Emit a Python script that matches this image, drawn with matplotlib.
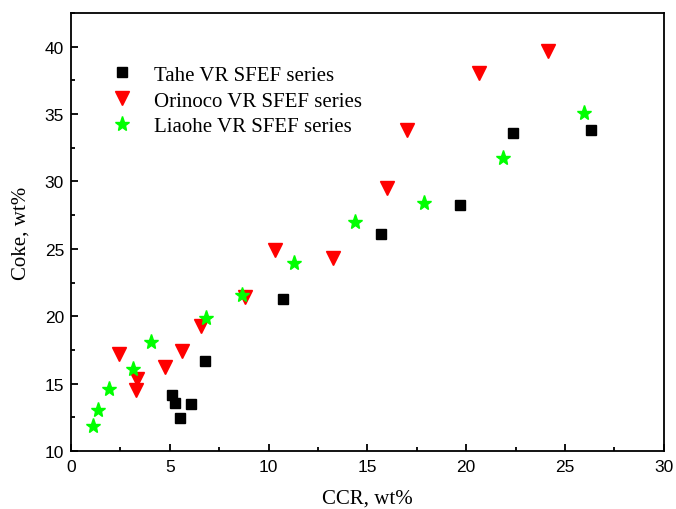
import matplotlib
matplotlib.use("Agg")
import matplotlib.pyplot as plt
from matplotlib.ticker import MultipleLocator

tahe_x = [5.12, 5.26, 5.53, 6.08, 6.8, 10.72, 15.71, 19.68, 22.36, 26.29]
tahe_y = [14.15, 13.56, 12.45, 13.46, 16.65, 21.28, 26.08, 28.27, 33.6, 33.81]

orin_x = [2.43, 3.32, 3.29, 4.77, 5.6, 6.59, 8.8, 10.32, 13.27, 16.0, 17.01, 20.64, 24.16]
orin_y = [17.2, 15.35, 14.5, 16.25, 17.45, 19.25, 21.4, 24.89, 24.29, 29.49, 33.81, 38.02, 39.7]

liao_x = [1.13, 1.38, 1.94, 3.15, 4.05, 6.81, 8.65, 11.28, 14.35, 17.87, 21.85, 25.95]
liao_y = [11.88, 13.07, 14.6, 16.08, 18.06, 19.87, 21.57, 23.97, 26.97, 28.38, 31.71, 35.05]

labels = ["Tahe VR SFEF series", "Orinoco VR SFEF series", "Liaohe VR SFEF series"]
x_label = "CCR, wt%"
y_label = "Coke, wt%"

serif = ["Liberation Serif", "DejaVu Serif"]
sans = ["Liberation Sans", "DejaVu Sans"]

fig = plt.figure(figsize=(6.76, 5.10), dpi=100)
ax = fig.add_axes([0.105, 0.1137, 0.877, 0.8588])

ax.plot(tahe_x, tahe_y, ls="none", marker="s", ms=7, color="black", label=labels[0])
ax.plot(orin_x, orin_y, ls="none", marker="v", ms=10, color="#ff0000", mec="#ff0000", label=labels[1])
ax.plot(liao_x, liao_y, ls="none", marker="*", ms=11, color="#00ff00", mec="#00ff00", label=labels[2])

ax.set_xlim(0, 30)
ax.set_ylim(10, 42.5)
ax.xaxis.set_major_locator(MultipleLocator(5))
ax.xaxis.set_minor_locator(MultipleLocator(2.5))
ax.yaxis.set_major_locator(MultipleLocator(5))
ax.yaxis.set_minor_locator(MultipleLocator(2.5))
ax.tick_params(which="both", direction="in", top=False, right=False, width=1.3)
ax.tick_params(which="major", length=5)
ax.tick_params(which="minor", length=3)
for s in ax.spines.values():
    s.set_linewidth(1.3)
for t in ax.get_xticklabels() + ax.get_yticklabels():
    t.set_family(sans)
    t.set_fontsize(12.5)
ax.tick_params(axis="x", pad=6)
ax.tick_params(axis="y", pad=5)

ax.set_xlabel(x_label, family=serif, fontsize=15, labelpad=10)
ax.set_ylabel(y_label, family=serif, fontsize=15, labelpad=10)

leg = ax.legend(loc="upper left", bbox_to_anchor=(0.055, 0.9), frameon=False,
                prop={"family": serif, "size": 15}, handlelength=1.0,
                handletextpad=1.0, labelspacing=0.3, borderaxespad=0)

fig.savefig("out.png", dpi=100)
